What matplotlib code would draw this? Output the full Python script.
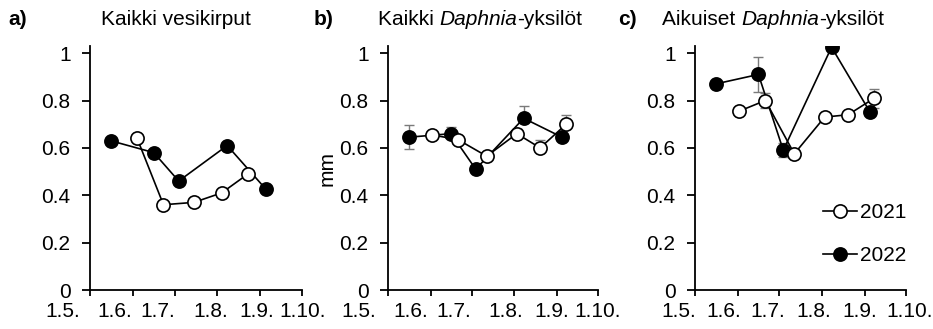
import matplotlib
matplotlib.use("Agg")
import matplotlib.pyplot as plt
from matplotlib.lines import Line2D
from datetime import date

plt.rcParams['font.family'] = ['Liberation Sans', 'DejaVu Sans']
plt.rcParams['font.size'] = 15

# sampling dates (day.month.)
dates_2021 = ["2.6.", "21.6.", "12.7.", "3.8.", "20.8.", "8.9."]
dates_2021_all = ["4.6.", "23.6.", "15.7.", "4.8.", "23.8."]
dates_2022 = ["16.5.", "16.6.", "4.7.", "8.8.", "5.9."]

# a) all cladocerans, mean body length (mm)
all_2021 = [0.64, 0.36, 0.37, 0.41, 0.49]
all_2022 = [0.63, 0.58, 0.46, 0.61, 0.425]

# b) all Daphnia
daph_2021 = [0.655, 0.635, 0.565, 0.66, 0.60, 0.70]
daph_2021_lo = [0, 0, 0, 0, 0, 0]
daph_2021_hi = [0, 0, 0, 0.02, 0.035, 0.04]
daph_2022 = [0.645, 0.66, 0.51, 0.725, 0.645]
daph_2022_lo = [0.05, 0, 0, 0, 0]
daph_2022_hi = [0.05, 0.03, 0, 0.05, 0]

# c) adult Daphnia
adult_2021 = [0.755, 0.80, 0.575, 0.73, 0.74, 0.81]
adult_2021_lo = [0, 0.03, 0, 0, 0, 0.04]
adult_2021_hi = [0, 0.03, 0.02, 0, 0, 0.04]
adult_2022 = [0.87, 0.91, 0.59, 1.025, 0.75]
adult_2022_lo = [0, 0.075, 0.03, 0, 0]
adult_2022_hi = [0, 0.075, 0.03, 0, 0]

month_labels = ["1.5.", "1.6.", "1.7.", "1.8.", "1.9.", "1.10."]
y_ticks = [0, 0.2, 0.4, 0.6, 0.8, 1.0]
y_labels = ["0", "0.2", "0.4", "0.6", "0.8", "1"]


def to_day(s):
    d, m = s.strip(".").split(".")
    return (date(2021, int(m), int(d)) - date(2021, 5, 1)).days


x21 = [to_day(s) for s in dates_2021]
x21_all = [to_day(s) for s in dates_2021_all]
x22 = [to_day(s) for s in dates_2022]
month_days = [to_day(s) for s in month_labels]

fig = plt.figure(figsize=(9.33, 3.29), dpi=100)
renderer = fig.canvas.get_renderer()

panels = [
    # left, width, letter, title pieces, month label x (axes fraction), series
    (0.0965, 0.2272, "a)", ["Kaikki vesikirput"],
     [-0.13, 0.118, 0.32, 0.571, 0.788, 1.005],
     (x21_all, all_2021, None, None), (x22, all_2022, None, None)),
    (0.4159, 0.2247, "b)", ["Kaikki ", "Daphnia", "-yksilöt"],
     [-0.14, 0.106, 0.313, 0.563, 0.782, 0.998],
     (x21, daph_2021, daph_2021_lo, daph_2021_hi),
     (x22, daph_2022, daph_2022_lo, daph_2022_hi)),
    (0.7449, 0.2262, "c)", ["Aikuiset ", "Daphnia", "-yksilöt"],
     [-0.079, 0.134, 0.347, 0.564, 0.782, 1.019],
     (x21, adult_2021, adult_2021_lo, adult_2021_hi),
     (x22, adult_2022, adult_2022_lo, adult_2022_hi)),
]

title_x = [0.108, 0.405, 0.71]
letter_x = [0.009, 0.336, 0.662]

for i, (left, width, letter, title, lab_pos, s21, s22) in enumerate(panels):
    ax = fig.add_axes([left, 0.1185, width, 0.7416])
    for (x, y, lo, hi), face, z in [(s22, "black", 3), (s21, "white", 4)]:
        if lo is not None:
            ax.errorbar(x, y, yerr=[lo, hi], fmt="none", ecolor="#7a7a7a",
                        elinewidth=1, capsize=3.5, capthick=1, zorder=z - 1.5)
        ax.plot(x, y, color="black", lw=1.2, marker="o", ms=9.5,
                mfc=face, mec="black", mew=1.2, zorder=z)

    ax.set_xlim(0, 153)
    ax.set_ylim(0, 1.03)
    ax.set_xticks(month_days)
    ax.set_xticklabels([])
    ax.set_yticks(y_ticks)
    ax.set_yticklabels(y_labels)
    # month labels sit a little left of their ticks
    for p, lab in zip(lab_pos, month_labels):
        ax.text(p * 153, -0.05, lab, transform=ax.get_xaxis_transform(),
                ha="center", va="top", fontsize=15)
    for side in ["top", "right"]:
        ax.spines[side].set_visible(False)
    for side in ["left", "bottom"]:
        ax.spines[side].set_linewidth(1.3)
    ax.tick_params(axis="y", direction="out", length=6, width=1.3, pad=8)
    ax.tick_params(axis="x", direction="out", length=4, width=1.3)

    if i == 1:
        ax.set_ylabel("mm", fontsize=15, labelpad=2)
    if i == 2:
        handles = [
            Line2D([], [], color="black", lw=1.2, marker="o", ms=9.5,
                   mfc="white", mec="black", mew=1.2),
            Line2D([], [], color="black", lw=1.2, marker="o", ms=9.5,
                   mfc="black", mec="black", mew=1.2),
        ]
        ax.legend(handles, ["2021", "2022"], loc="lower right", frameon=False,
                  handlelength=1.6, handletextpad=0.15, labelspacing=1.15,
                  borderaxespad=0.1, bbox_to_anchor=(1.05, 0.06), fontsize=15)

    fig.text(letter_x[i], 0.94, letter, fontsize=15, fontweight="bold",
             va="center", ha="left")
    # title written piece by piece so "Daphnia" can be italic
    x0 = title_x[i]
    for piece in title:
        style = "italic" if piece == "Daphnia" else "normal"
        t = fig.text(x0, 0.94, piece, fontsize=15, style=style,
                     va="center", ha="left")
        x0 = t.get_window_extent(renderer).x1 / fig.bbox.width

fig.savefig("out.png", dpi=100)
